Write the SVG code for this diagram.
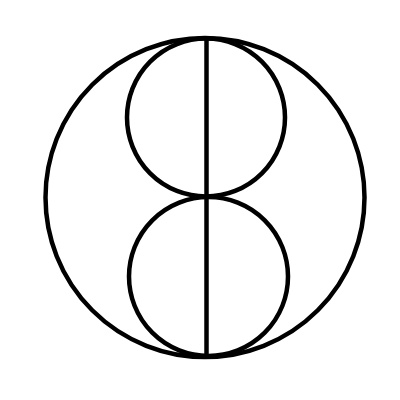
<svg xmlns="http://www.w3.org/2000/svg" width="400" height="400" viewBox="0 0 400 400">
<style>.s{fill:none;stroke:#000;stroke-width:4.5}</style>
<rect width="400" height="400" fill="#fff"/>
<g id="outer"><circle class="s" cx="205" cy="197.5" r="159.5"/></g>
<g id="top"><circle class="s" cx="206" cy="117.5" r="79"/></g>
<g id="bottom"><circle class="s" cx="208.5" cy="276.5" r="79.5"/></g>
<g id="connectors"><line class="s" x1="206.5" y1="38" x2="206.5" y2="357"/></g>
</svg>
